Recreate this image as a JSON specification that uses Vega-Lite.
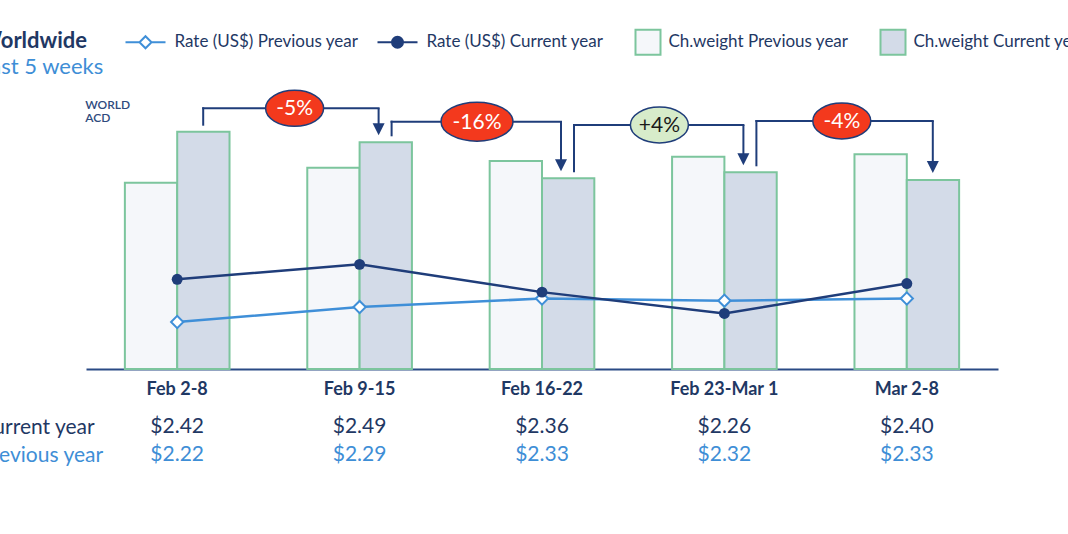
{
  "$schema": "https://vega.github.io/schema/vega-lite/v6.json",
  "width": 912,
  "height": 284,
  "autosize": {"type": "none"},
  "padding": {"left": 86, "top": 85, "right": 70, "bottom": 165},
  "background": "white",
  "config": {"font": "Lato", "view": {"stroke": null}},
  "title": {
    "text": "Worldwide",
    "subtitle": "Last 5 weeks",
    "anchor": "start",
    "frame": "bounds",
    "orient": "top",
    "offset": -48,
    "font": "Lato",
    "fontSize": 22,
    "fontWeight": "bold",
    "color": "#1f3864",
    "subtitleFont": "Lato",
    "subtitleFontSize": 22,
    "subtitleColor": "#3e8ed6",
    "subtitlePadding": 4
  },
  "datasets": {
    "weeks": [
      {"week": "Feb 2-8", "prevWeight": 186.3, "currWeight": 237.3, "prevRate": 2.22, "currRate": 2.42},
      {"week": "Feb 9-15", "prevWeight": 201.3, "currWeight": 226.7, "prevRate": 2.29, "currRate": 2.49},
      {"week": "Feb 16-22", "prevWeight": 208.0, "currWeight": 190.7, "prevRate": 2.33, "currRate": 2.36},
      {"week": "Feb 23-Mar 1", "prevWeight": 212.3, "currWeight": 196.7, "prevRate": 2.32, "currRate": 2.26},
      {"week": "Mar 2-8", "prevWeight": 214.7, "currWeight": 189.0, "prevRate": 2.33, "currRate": 2.40}
    ],
    "changes": [
      {"from": "Feb 2-8", "to": "Feb 9-15", "change": "-5%", "level": 260.7},
      {"from": "Feb 9-15", "to": "Feb 16-22", "change": "-16%", "level": 247.3},
      {"from": "Feb 16-22", "to": "Feb 23-Mar 1", "change": "+4%", "level": 244.0},
      {"from": "Feb 23-Mar 1", "to": "Mar 2-8", "change": "-4%", "level": 248.0}
    ]
  },
  "layer": [
    {
      "layer": [
        {
          "data": {"name": "weeks"},
          "transform": [{"fold": ["prevWeight", "currWeight"], "as": ["series", "weight"]}],
          "mark": {"type": "bar", "stroke": "#7cc59d", "strokeWidth": 2},
          "encoding": {
            "x": {
              "field": "week", "type": "nominal",
              "scale": {"domain": ["Feb 2-8", "Feb 9-15", "Feb 16-22", "Feb 23-Mar 1", "Mar 2-8"], "paddingInner": 0, "paddingOuter": 0},
              "axis": {"title": null, "ticks": false, "domain": true, "domainColor": "#2a4a85", "domainWidth": 2, "labelAngle": 0, "labelFont": "Lato", "labelFontWeight": "bold", "labelFontSize": 18, "labelColor": "#1f3864", "labelPadding": 11, "grid": false}
            },
            "xOffset": {"field": "series", "type": "nominal", "scale": {"domain": ["prevWeight", "currWeight"], "paddingInner": 0, "paddingOuter": 0.743}},
            "y": {"field": "weight", "type": "quantitative", "scale": {"domain": [0, 284], "nice": false, "zero": true}, "axis": null},
            "fill": {"condition": {"test": "datum.series === 'currWeight'", "value": "#d3dbe8"}, "value": "#f5f7fa"}
          }
        },
        {
          "data": {"name": "changes"},
          "transform": [
            {"lookup": "from", "from": {"data": {"name": "weeks"}, "key": "week", "fields": ["currWeight"]}, "as": ["fromWeight"]},
            {"lookup": "to", "from": {"data": {"name": "weeks"}, "key": "week", "fields": ["currWeight"]}, "as": ["toWeight"]},
            {"lookup": "from", "from": {"data": {"name": "changes"}, "key": "to", "fields": ["change"]}, "as": ["incoming"]},
            {"lookup": "to", "from": {"data": {"name": "changes"}, "key": "from", "fields": ["change"]}, "as": ["outgoing"]}
          ],
          "layer": [
            {
              "transform": [{"filter": "datum.incoming == null"}],
              "mark": {"type": "rule", "color": "#1f3d7a", "strokeWidth": 2, "strokeCap": "square", "xOffset": 26, "yOffset": -7},
              "encoding": {"x": {"field": "from", "type": "nominal", "axis": {"title": null}}, "y": {"field": "fromWeight", "type": "quantitative"}, "y2": {"field": "level"}}
            },
            {
              "transform": [{"filter": "datum.incoming != null"}],
              "mark": {"type": "rule", "color": "#1f3d7a", "strokeWidth": 2, "strokeCap": "square", "xOffset": 32, "yOffset": -7},
              "encoding": {"x": {"field": "from", "type": "nominal", "axis": {"title": null}}, "y": {"field": "fromWeight", "type": "quantitative"}, "y2": {"field": "level"}}
            },
            {
              "transform": [{"filter": "datum.incoming == null"}],
              "mark": {"type": "rule", "color": "#1f3d7a", "strokeWidth": 2, "strokeCap": "square", "xOffset": 26, "x2Offset": -65},
              "encoding": {"x": {"field": "from", "type": "nominal", "axis": {"title": null}}, "x2": {"field": "to"}, "y": {"field": "level", "type": "quantitative"}}
            },
            {
              "transform": [{"filter": "datum.incoming != null"}],
              "mark": {"type": "rule", "color": "#1f3d7a", "strokeWidth": 2, "strokeCap": "square", "xOffset": 32, "x2Offset": -65},
              "encoding": {"x": {"field": "from", "type": "nominal", "axis": {"title": null}}, "x2": {"field": "to"}, "y": {"field": "level", "type": "quantitative"}}
            },
            {
              "transform": [{"filter": "datum.outgoing != null"}],
              "mark": {"type": "rule", "color": "#1f3d7a", "strokeWidth": 2, "strokeCap": "square", "xOffset": -65, "x2Offset": 19},
              "encoding": {"x": {"field": "to", "type": "nominal", "axis": {"title": null}}, "x2": {"field": "to"}, "y": {"field": "level", "type": "quantitative"}}
            },
            {
              "transform": [{"filter": "datum.outgoing == null"}],
              "mark": {"type": "rule", "color": "#1f3d7a", "strokeWidth": 2, "strokeCap": "square", "xOffset": -65, "x2Offset": 26},
              "encoding": {"x": {"field": "to", "type": "nominal", "axis": {"title": null}}, "x2": {"field": "to"}, "y": {"field": "level", "type": "quantitative"}}
            },
            {
              "transform": [{"filter": "datum.outgoing != null"}],
              "mark": {"type": "rule", "color": "#1f3d7a", "strokeWidth": 2, "xOffset": 19, "y2Offset": -14},
              "encoding": {"x": {"field": "to", "type": "nominal", "axis": {"title": null}}, "y": {"field": "level", "type": "quantitative"}, "y2": {"field": "toWeight"}}
            },
            {
              "transform": [{"filter": "datum.outgoing == null"}],
              "mark": {"type": "rule", "color": "#1f3d7a", "strokeWidth": 2, "xOffset": 26, "y2Offset": -14},
              "encoding": {"x": {"field": "to", "type": "nominal", "axis": {"title": null}}, "y": {"field": "level", "type": "quantitative"}, "y2": {"field": "toWeight"}}
            },
            {
              "transform": [{"filter": "datum.outgoing != null"}],
              "mark": {"type": "point", "shape": "M-1,-1L1,-1L0,1Z", "size": 144, "filled": true, "color": "#1f3d7a", "opacity": 1, "xOffset": 19, "yOffset": -13},
              "encoding": {"x": {"field": "to", "type": "nominal", "axis": {"title": null}}, "y": {"field": "toWeight", "type": "quantitative"}}
            },
            {
              "transform": [{"filter": "datum.outgoing == null"}],
              "mark": {"type": "point", "shape": "M-1,-1L1,-1L0,1Z", "size": 144, "filled": true, "color": "#1f3d7a", "opacity": 1, "xOffset": 26, "yOffset": -13},
              "encoding": {"x": {"field": "to", "type": "nominal", "axis": {"title": null}}, "y": {"field": "toWeight", "type": "quantitative"}}
            },
            {
              "mark": {"type": "point", "size": 3364, "opacity": 1, "filled": true, "stroke": "#1f3d7a", "strokeWidth": 1.5, "xOffset": -65},
              "encoding": {
                "x": {"field": "to", "type": "nominal", "axis": {"title": null}},
                "y": {"field": "level", "type": "quantitative"},
                "shape": {"condition": {"test": "length(datum.change) > 3", "value": "M-1.24,0A1.24,0.67 0 1 1 1.24,0A1.24,0.67 0 1 1 -1.24,0Z"}, "value": "M-1,0A1,0.62 0 1 1 1,0A1,0.62 0 1 1 -1,0Z"},
                "fill": {"condition": {"test": "indexof(datum.change, '+') === 0", "value": "#d7ecca"}, "value": "#f3391d"}
              }
            },
            {
              "mark": {"type": "text", "fontSize": 21, "font": "Lato", "align": "center", "baseline": "middle", "xOffset": -65, "dy": 1},
              "encoding": {
                "x": {"field": "to", "type": "nominal", "axis": {"title": null}},
                "y": {"field": "level", "type": "quantitative"},
                "text": {"field": "change"},
                "color": {"condition": {"test": "indexof(datum.change, '+') === 0", "value": "#1a1a1a"}, "value": "#ffffff"}
              }
            }
          ]
        },
        {
          "data": {"values": [{"brand": "WORLD ACD"}]},
          "mark": {"type": "text", "lineBreak": " ", "fontSize": 12, "fontWeight": 600, "lineHeight": 13, "align": "left", "baseline": "top", "color": "#2e4a7d", "xOffset": -92},
          "encoding": {
            "x": {"datum": "Feb 2-8", "type": "nominal", "axis": {"title": null}},
            "y": {"datum": 269, "type": "quantitative"},
            "text": {"field": "brand"}
          }
        }
      ]
    },
    {
      "data": {"name": "weeks"},
      "layer": [
        {
          "mark": {"type": "line", "color": "#3f8fd8", "strokeWidth": 2.5},
          "encoding": {
            "x": {"field": "week", "type": "nominal", "axis": {"title": null}},
            "y": {"field": "prevRate", "type": "quantitative", "scale": {"domain": [2.0, 3.33], "nice": false, "zero": false}, "axis": null}
          }
        },
        {
          "mark": {"type": "line", "color": "#1f3d7a", "strokeWidth": 2.5},
          "encoding": {
            "x": {"field": "week", "type": "nominal", "axis": {"title": null}},
            "y": {"field": "currRate", "type": "quantitative", "axis": null}
          }
        },
        {
          "mark": {"type": "point", "shape": "diamond", "size": 150, "filled": true, "fill": "#ffffff", "stroke": "#3f8fd8", "strokeWidth": 2, "opacity": 1},
          "encoding": {
            "x": {"field": "week", "type": "nominal", "axis": {"title": null}},
            "y": {"field": "prevRate", "type": "quantitative", "axis": null}
          }
        },
        {
          "mark": {"type": "point", "shape": "circle", "size": 120, "filled": true, "color": "#1f3d7a", "opacity": 1},
          "encoding": {
            "x": {"field": "week", "type": "nominal", "axis": {"title": null}},
            "y": {"field": "currRate", "type": "quantitative", "axis": null}
          }
        }
      ]
    },
    {
      "data": {"name": "weeks"},
      "transform": [{"fold": ["currRate", "prevRate"], "as": ["year", "rate"]}],
      "mark": {"type": "text", "fontSize": 21, "font": "Lato", "align": "center", "baseline": "middle"},
      "encoding": {
        "x": {"field": "week", "type": "nominal", "axis": {"title": null}},
        "y": {
          "field": "year", "type": "nominal",
          "scale": {"type": "point", "domain": ["currRate", "prevRate"], "range": [342, 370], "padding": 0},
          "axis": {
            "orient": "left", "title": null, "domain": false, "ticks": false, "tickSize": 0, "grid": false,
            "labelExpr": "datum.value === 'currRate' ? 'Current year' : 'Previous year'",
            "labelAlign": "left", "labelBaseline": "middle", "labelPadding": 107, "labelFont": "Lato", "labelFontSize": 21,
            "labelColor": {"condition": {"test": "datum.value === 'currRate'", "value": "#1f3864"}, "value": "#3e8ed6"}
          }
        },
        "text": {"field": "rate", "type": "quantitative", "format": "$.2f"},
        "color": {"condition": {"test": "datum.year === 'currRate'", "value": "#1f3864"}, "value": "#3e8ed6"}
      }
    },
    {
      "data": {"values": []},
      "mark": {"type": "point", "filled": true, "opacity": 1},
      "encoding": {
        "fill": {
          "field": "series", "type": "nominal",
          "scale": {"domain": ["Rate (US$) Previous year", "Rate (US$) Current year", "Ch.weight Previous year", "Ch.weight Current year"], "range": ["#ffffff", "#1f3d7a", "#f5f7fa", "#d3dbe8"]},
          "legend": {"title": null, "orient": "none", "direction": "horizontal", "legendX": 38.5, "legendY": -54, "padding": 0, "columnPadding": 15, "labelOffset": 28, "symbolSize": 400, "symbolStrokeWidth": 2, "labelFont": "Lato", "labelFontSize": 17, "labelColor": "#1f3864", "labelLimit": 400}
        },
        "stroke": {
          "field": "series", "type": "nominal",
          "scale": {"domain": ["Rate (US$) Previous year", "Rate (US$) Current year", "Ch.weight Previous year", "Ch.weight Current year"], "range": ["#3f8fd8", "#1f3d7a", "#7cc59d", "#7cc59d"]},
          "legend": {"title": null, "orient": "none", "direction": "horizontal", "legendX": 38.5, "legendY": -54, "padding": 0, "columnPadding": 15, "labelOffset": 28, "symbolSize": 400, "symbolStrokeWidth": 2, "labelFont": "Lato", "labelFontSize": 17, "labelColor": "#1f3864", "labelLimit": 400}
        },
        "shape": {
          "field": "series", "type": "nominal",
          "scale": {"domain": ["Rate (US$) Previous year", "Rate (US$) Current year", "Ch.weight Previous year", "Ch.weight Current year"], "range": ["M1,-1.25L1,-1.25M1,1.25L1,1.25M-1,0H0.4M1.6,0H3M1,-0.6L1.6,0L1,0.6L0.4,0Z", "M1,-1.25L1,-1.25M1,1.25L1,1.25M-1,0H3M1.55,0A0.55,0.55 0 1 1 0.45,0A0.55,0.55 0 1 1 1.55,0Z", "M0.6,-1.25H3.1V1.25H0.6Z", "M0.6,-1.25H3.1V1.25H0.6Z"]},
          "legend": {"title": null, "orient": "none", "direction": "horizontal", "legendX": 38.5, "legendY": -54, "padding": 0, "columnPadding": 15, "labelOffset": 28, "symbolSize": 400, "symbolStrokeWidth": 2, "labelFont": "Lato", "labelFontSize": 17, "labelColor": "#1f3864", "labelLimit": 400}
        }
      }
    }
  ],
  "resolve": {"scale": {"y": "independent"}}
}
